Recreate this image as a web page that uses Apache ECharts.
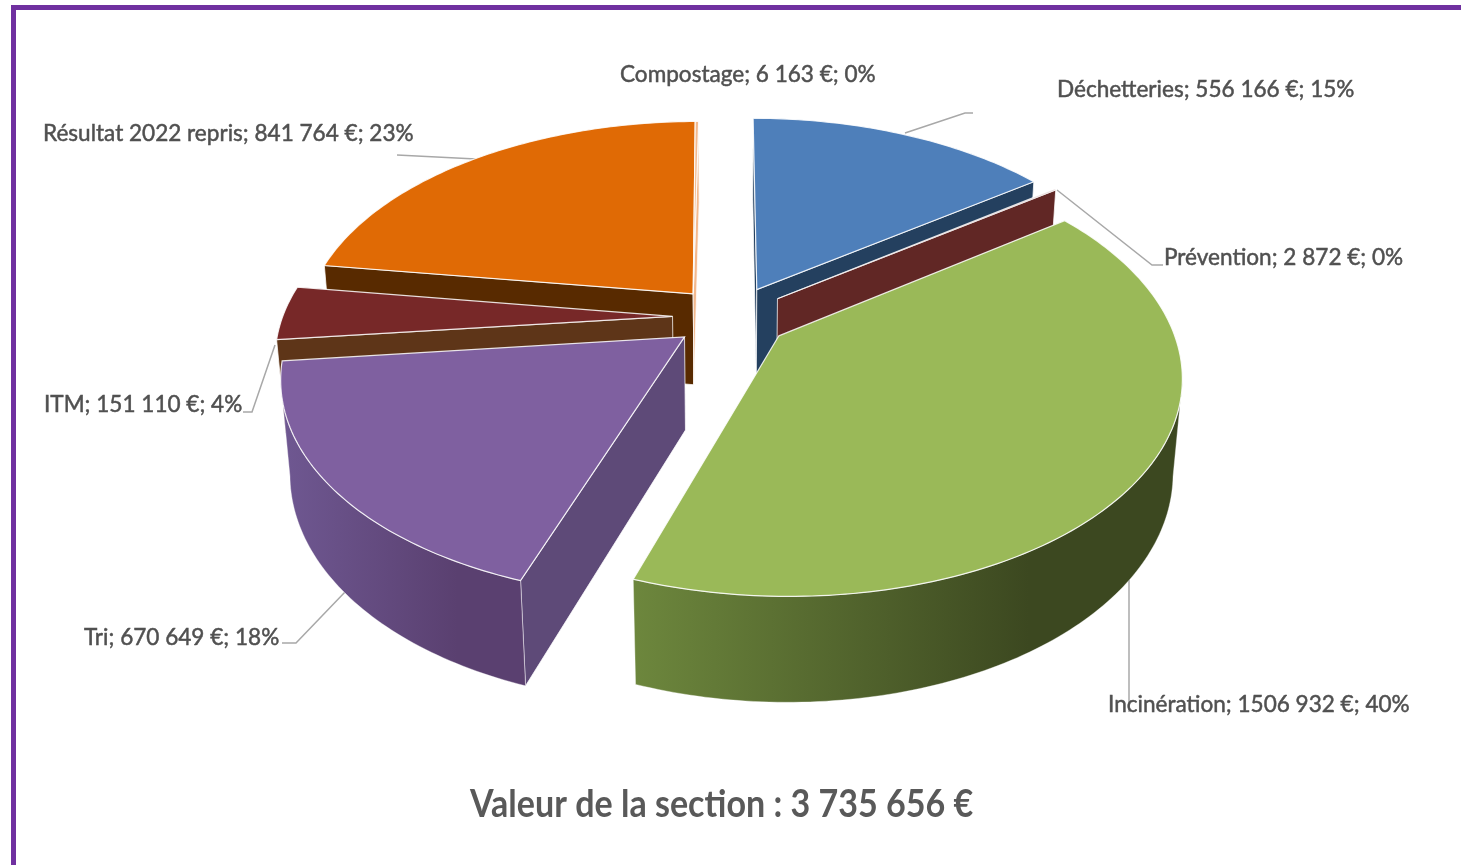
<!DOCTYPE html>
<html>
<head>
<meta charset="utf-8">
<title>Valeur de la section</title>
<style>
  html, body { margin: 0; padding: 0; background: #fff; }
  #chart { width: 1461px; height: 865px; }
</style>
<script src="https://cdn.jsdelivr.net/npm/echarts@6/dist/echarts.min.js"></script>
</head>
<body>
<div id="chart"></div>
<script>
// ordre du graphique, dans le sens horaire depuis le haut
const categories = ['Déchetteries', 'Prévention', 'Incinération', 'Tri', 'ITM', 'Résultat 2022 repris', 'Compostage']
const values = [556166, 2872, 1506932, 670649, 151110, 841764, 6163]
const topColors = ['#4e7fba', '#772c2a', '#9ab958', '#7f60a0', '#772828', '#e06a05', '#f3b98e']
const wallColors = ['#24405f', '#612725', '#3d4921', '#5e4a78', '#5e3518', '#582a00', '#f3b98e']
const rimStops = [
  ['#30527a', '#24405f'],
  ['#612725', '#612725'],
  ['#6d873d', '#3c4820'],
  ['#6f5892', '#5a4070'],
  ['#5e3518', '#5e3518'],
  ['#582a00', '#582a00'],
  ['#f3b98e', '#f3b98e']
]
// peint de l'arriere vers l'avant
const drawOrder = [5, 6, 0, 1, 4, 3, 2]
const sectionTotal = '3 735 656 €'

const total = values.reduce((a, b) => a + b, 0)

// projection of the tilted pie
const cx = 731, cy = 317
const rx = 390, ry = 209
const persp = 0.17, depth = 94, lean = 0.02
const explode = 0.15
const startAngle = 0

function project(x, y, z) {
  const w = 1 + persp * y + lean * z
  return [cx + rx * x / w, cy + (-ry * y + depth * z) / w]
}

function sliceAngles(i) {
  let before = 0
  for (let k = 0; k < i; k++) before += values[k]
  const from = echarts.number.linearMap(before, [0, total], [startAngle, startAngle + 360])
  const to = echarts.number.linearMap(before + values[i], [0, total], [startAngle, startAngle + 360])
  return [from, to]
}

function renderSlice(params, api) {
  const i = api.value(0)
  const ang = sliceAngles(i)
  // Compostage stays stuck to the edge of Résultat in the picture
  const pull = i === 6 ? sliceAngles(5) : ang
  const mid = (pull[0] + pull[1]) / 2 * Math.PI / 180
  const ox = explode * Math.sin(mid)
  const oy = explode * Math.cos(mid)

  // rim points, one per degree
  const rim = []
  const n = Math.max(1, Math.ceil(ang[1] - ang[0]))
  for (let k = 0; k <= n; k++) {
    const a = (ang[0] + (ang[1] - ang[0]) * k / n) * Math.PI / 180
    rim.push([ox + Math.sin(a), oy + Math.cos(a)])
  }
  const top = (p) => project(p[0], p[1], 0)
  const low = (p) => project(p[0], p[1], 1)
  const apex = [ox, oy]
  const edge = { stroke: 'rgba(255,255,255,0.75)', lineWidth: 1 }
  const children = []

  function wall(a, b) {
    if (top(b)[0] < top(a)[0]) {
      children.push({
        type: 'polygon',
        shape: { points: [top(a), top(b), low(b), low(a)] },
        style: Object.assign({ fill: wallColors[i] }, edge)
      })
    }
  }
  wall(apex, rim[0])
  wall(rim[n], apex)

  // only the part of the rim facing the viewer gets a wall
  let front = []
  for (let k = 0; k < n; k++) {
    if (top(rim[k + 1])[0] < top(rim[k])[0]) {
      if (!front.length) front.push(rim[k])
      front.push(rim[k + 1])
    }
  }
  if (front.length) {
    const pts = front.map(top).concat(front.slice().reverse().map(low))
    children.push({
      type: 'polygon',
      shape: { points: pts },
      style: {
        fill: new echarts.graphic.LinearGradient(0, 0, 1, 0, [
          { offset: 0, color: rimStops[i][0] },
          { offset: 0.72, color: rimStops[i][1] },
          { offset: 1, color: rimStops[i][1] }
        ]),
        stroke: 'rgba(255,255,255,0.35)',
        lineWidth: 1
      }
    })
  }

  children.push({
    type: 'polygon',
    shape: { points: [top(apex)].concat(rim.map(top)) },
    style: { fill: topColors[i], stroke: 'rgba(255,255,255,0.85)', lineWidth: 1.2 }
  })
  return { type: 'group', children: children }
}

function labelText(i) {
  const money = String(values[i]).replace(/(\d{3})$/, ' $1')
  return categories[i] + '; ' + money + ' €; ' + Math.round(values[i] / total * 100) + '%'
}

// Lato squeezed a little, closest thing to the original Calibri
function label(i, x, y) {
  return {
    type: 'text',
    z: 5,
    x: x,
    y: y,
    scaleX: 0.94,
    style: {
      text: labelText(i),
      font: '24px Lato, sans-serif',
      fill: '#505050',
      stroke: '#505050',
      lineWidth: 0.5,
      textVerticalAlign: 'middle'
    }
  }
}
function leader(points) {
  return {
    type: 'polyline',
    z: 1,
    shape: { points: points },
    style: { stroke: '#a8a8a8', lineWidth: 1.5, fill: null }
  }
}

const chart = echarts.init(document.getElementById('chart'))
chart.setOption({
  backgroundColor: '#fff',
  animation: false,
  series: [{
    type: 'custom',
    coordinateSystem: 'none',
    silent: true,
    z: 2,
    renderItem: renderSlice,
    data: drawOrder.map(i => [i, values[i]])
  }],
  graphic: [
    {
      type: 'polyline',
      z: 6,
      shape: { points: [[13.5, 865], [13.5, 7.5], [1461, 7.5]] },
      style: { stroke: '#7030a0', lineWidth: 5, fill: null }
    },
    leader([[905, 133], [965, 113], [973, 113]]),
    leader([[1057, 190], [1152, 265], [1163, 265]]),
    leader([[1129, 580], [1129, 712]]),
    leader([[345, 592], [296, 643], [282, 643]]),
    leader([[275, 345], [252, 412], [243, 412]]),
    leader([[397, 155], [476, 159]]),
    label(6, 620, 74),
    label(0, 1057, 89),
    label(5, 43, 133),
    label(1, 1164, 257),
    label(4, 44, 404),
    label(3, 84, 637),
    label(2, 1108, 704),
    {
      type: 'text',
      z: 5,
      x: 470,
      y: 805,
      scaleX: 0.896,
      style: {
        text: 'Valeur de la section : ' + sectionTotal,
        font: 'bold 38px Lato, sans-serif',
        fill: '#595959',
        textVerticalAlign: 'middle'
      }
    }
  ]
})
</script>
</body>
</html>
